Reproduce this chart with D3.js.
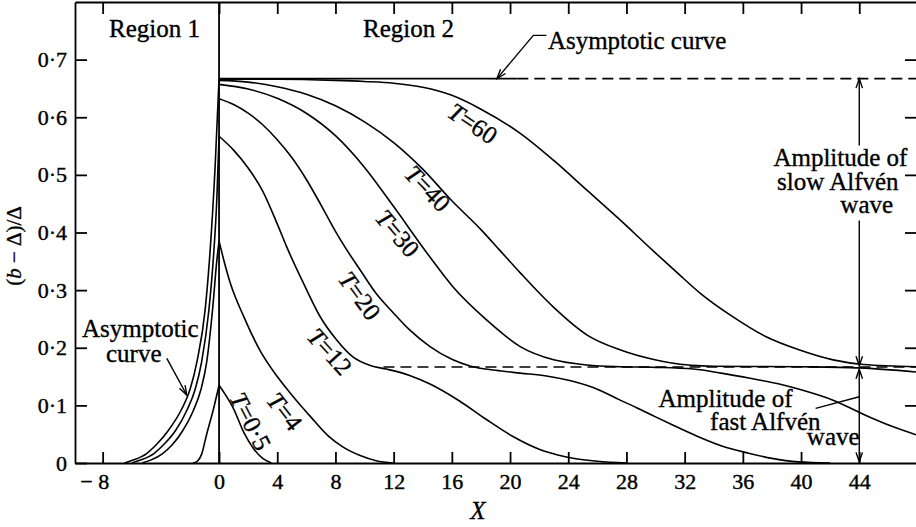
<!DOCTYPE html>
<html>
<head>
<meta charset="utf-8">
<script src="https://cdn.jsdelivr.net/npm/d3@7"></script>
<style>
  body { margin: 0; background: #fff; }
  svg { display: block; font-family: "Liberation Serif", "Times New Roman", serif; }
  .axis path, .axis line { stroke: #000; stroke-width: 1.8px; }
  .axis text { font-size: 22px; fill: #000; stroke: #000; stroke-width: 0.4px;
    font-family: "Liberation Serif", "Times New Roman", serif; }
  .curve { fill: none; stroke: #000; stroke-width: 1.6px; }
  .dash { fill: none; stroke: #000; stroke-width: 1.6px; stroke-dasharray: 11,6; }
  .lead { fill: none; stroke: #000; stroke-width: 1.4px; }
  .lbl { font-size: 25px; fill: #000; stroke: #000; stroke-width: 0.35px; }
</style>
</head>
<body>
<div id="chart"></div>
<script>
/* Axis ticks. */
const xTicks = [-8, 0, 4, 8, 12, 16, 20, 24, 28, 32, 36, 40, 44];
const yTicks = [0, 0.1, 0.2, 0.3, 0.4, 0.5, 0.6, 0.7];

/* Asymptotic levels: slow wave amplitude and fast wave amplitude. */
const asymLevel = 0.667;
const fastLevel = 0.1667;

/* Region 2 curves, points are [X, (b - Δ)/Δ]. */
const curveT60 = [[0, 0.666], [4, 0.666], [8, 0.664], [10, 0.662], [12, 0.659], [14, 0.652], [16, 0.638], [18, 0.614],
    [20.7, 0.572], [23, 0.525], [25.3, 0.473], [27.6, 0.421], [29.8, 0.369], [31.5, 0.33], [33.1, 0.294], [35.3, 0.254],
    [37.6, 0.219], [39.9, 0.196], [42.2, 0.179], [44.3, 0.171], [47.9, 0.167]];
const curveT40 = [[0, 0.664], [2, 0.661], [4, 0.653], [6, 0.64], [8, 0.62], [10, 0.592], [12, 0.556], [14, 0.51],
    [16, 0.455], [18, 0.405], [19.3, 0.369], [20.7, 0.33], [23, 0.27], [25.3, 0.222], [27.6, 0.196], [29.8, 0.18],
    [31, 0.174], [34, 0.168], [40, 0.167], [44, 0.165], [47.9, 0.158]];
const curveT30 = [[0, 0.657], [2, 0.649], [4, 0.633], [6, 0.607], [8, 0.568], [10, 0.513], [12, 0.445], [14.3, 0.364],
    [16.1, 0.305], [18.4, 0.248], [20.7, 0.202], [23, 0.179], [25.3, 0.17], [27.6, 0.167], [30, 0.166], [32.6, 0.163],
    [34.5, 0.156], [36.5, 0.147], [38.5, 0.137], [40, 0.127], [42.2, 0.109], [44.5, 0.082], [46.2, 0.064], [47.9, 0.049]];
const curveT20 = [[0, 0.632], [1, 0.622], [2, 0.607], [3, 0.587], [4, 0.561], [5, 0.53], [6, 0.492], [7, 0.448],
    [8, 0.402], [8.8, 0.369], [9.7, 0.335], [10.8, 0.294], [12, 0.26], [13.1, 0.231], [14.5, 0.202], [16, 0.18],
    [17.3, 0.168], [19, 0.161], [20.7, 0.156], [22.5, 0.151], [24.1, 0.143], [26.2, 0.126], [27.5, 0.11], [28.7, 0.096],
    [30, 0.08], [31, 0.068], [32.9, 0.046], [34.5, 0.03], [36.4, 0.017], [38, 0.008], [39.8, 0.002], [42, 0]];
const curveT12 = [[0, 0.567], [1, 0.543], [2, 0.512], [3, 0.472], [4, 0.415], [4.65, 0.375], [5.8, 0.312], [6.9, 0.256],
    [8.1, 0.213], [9.2, 0.184], [10.4, 0.169], [11.5, 0.163], [13.1, 0.152], [14.5, 0.137], [16.5, 0.108], [18.4, 0.075],
    [20.2, 0.046], [22, 0.024], [23.8, 0.011], [26, 0.003], [28, 0]];
const curveT4 = [[0, 0.385], [0.4, 0.345], [0.8, 0.31], [1.7, 0.254], [2.8, 0.196], [4, 0.15], [5.1, 0.115], [6.3, 0.08],
    [7.5, 0.047], [8.5, 0.028], [9.7, 0.013], [10.8, 0.004], [12, 0]];
const curveT05 = [[0, 0.135], [0.4, 0.12], [1, 0.094], [1.7, 0.053], [2.4, 0.024], [3, 0.008], [3.6, 0]];

/* Region 1 curves. */
const region1Asym = [[-6.5, 0], [-5.9, 0.005], [-5, 0.016], [-4.3, 0.032], [-3.5, 0.056], [-2.6, 0.092], [-2, 0.127],
    [-1.5, 0.178], [-0.96, 0.265], [-0.66, 0.352], [-0.27, 0.514], [0, 0.666]];
const region1T12 = [[-6, 0], [-5.4, 0.005], [-4.5, 0.016], [-3.8, 0.032], [-3, 0.056], [-2.2, 0.092], [-1.65, 0.127],
    [-1.2, 0.175], [-0.7, 0.265], [-0.4, 0.352], [-0.15, 0.46], [0, 0.567]];
const region1T4 = [[-5.3, 0], [-4.7, 0.005], [-3.9, 0.016], [-3.2, 0.032], [-2.5, 0.056], [-1.75, 0.092], [-1.25, 0.127],
    [-0.85, 0.175], [-0.45, 0.265], [-0.15, 0.352], [0, 0.385]];
const region1T05 = [[-1.8, 0], [-1.5, 0.003], [-1.2, 0.015], [-0.85, 0.05], [-0.4, 0.092], [0, 0.135]];

/* Chart creation values. */
const W = 916, H = 527;
const margin = {top: 2, right: 0, bottom: 64, left: 75};

const svg = d3.select('#chart').append('svg')
    .attr('width', W)
    .attr('height', H);
svg.append('rect').attr('width', W).attr('height', H).attr('fill', '#fff');

const x = d3.scaleLinear().domain([-9.9, 47.9]).range([margin.left, W - margin.right]);
const y = d3.scaleLinear().domain([0, 0.8]).range([H - margin.bottom, margin.top]);

const line = d3.line()
    .x(d => x(d[0]))
    .y(d => y(d[1]))
    .curve(d3.curveMonotoneX);

// Axes, ticks pointing into the frame.
const bottom = svg.append('g').attr('class', 'axis')
    .attr('transform', 'translate(0,' + y(0) + ')')
    .call(d3.axisBottom(x).tickValues(xTicks).tickSizeInner(-11).tickSizeOuter(0).tickPadding(10)
        .tickFormat(d => d < 0 ? '\u2212 ' + Math.abs(d) : d));
// Negative label: the digit sits on the tick, the minus hangs to the left.
bottom.selectAll('.tick text').filter(d => d < 0)
    .attr('text-anchor', 'end')
    .attr('x', 6);
svg.append('g').attr('class', 'axis')
    .attr('transform', 'translate(0,' + y(0.8) + ')')
    .call(d3.axisTop(x).tickValues(xTicks).tickSizeInner(-12).tickSizeOuter(0).tickFormat(''));
svg.append('g').attr('class', 'axis')
    .attr('transform', 'translate(' + x.range()[0] + ',0)')
    .call(d3.axisLeft(y).tickValues(yTicks).tickSizeInner(-12).tickSizeOuter(0).tickPadding(8)
        .tickFormat(d => d === 0 ? '0' : '0\u00b7' + Math.round(d * 10)));
const right = svg.append('g').attr('class', 'axis')
    .attr('transform', 'translate(' + x.range()[1] + ',0)')
    .call(d3.axisRight(y).tickValues(yTicks.slice(1)).tickSizeInner(-11).tickSizeOuter(0).tickFormat(''));
right.select('.domain').remove();

// Region divider at X = 0.
svg.append('line')
    .attr('x1', x(0)).attr('x2', x(0))
    .attr('y1', y(0)).attr('y2', y(0.8))
    .attr('stroke', '#000').attr('stroke-width', 1.8);

// Asymptotic lines.
svg.append('path').attr('class', 'curve').attr('d', line([[0, asymLevel], [20.5, asymLevel]]));
svg.append('path').attr('class', 'dash').attr('d', line([[20.5, asymLevel], [x.domain()[1], asymLevel]]));
svg.append('path').attr('class', 'dash').attr('d', line([[11.3, fastLevel], [x.domain()[1], fastLevel]]));

// All curves.
const curves = [curveT60, curveT40, curveT30, curveT20, curveT12, curveT4, curveT05,
    region1Asym, region1T12, region1T4, region1T05];
svg.selectAll('path.series')
    .data(curves)
    .enter()
    .append('path')
    .attr('class', 'curve series')
    .attr('d', d => line(d));

// Curve labels, placed in data units.
const curveLabels = [
    {t: '60', X: 17.46, v: 0.59, a: 34},
    {t: '40', X: 14.36, v: 0.477, a: 46},
    {t: '30', X: 12.3, v: 0.399, a: 50},
    {t: '20', X: 9.69, v: 0.291, a: 54},
    {t: '12', X: 7.63, v: 0.194, a: 48},
    {t: '4', X: 4.54, v: 0.09, a: 52},
    {t: '0\u00b75', X: 2.2, v: 0.073, a: 63}
];
const cl = svg.selectAll('text.clabel')
    .data(curveLabels)
    .enter()
    .append('text')
    .attr('class', 'lbl clabel')
    .attr('text-anchor', 'middle')
    .attr('dominant-baseline', 'central')
    .attr('transform', d => 'translate(' + x(d.X) + ',' + y(d.v) + ') rotate(' + d.a + ')');
cl.append('tspan').attr('font-style', 'italic').text('T');
cl.append('tspan').text(d => '=' + d.t);

// Arrow helper: polyline with open head at the last point.
function arrow(pts) {
    const p = pts.map(d => [x(d[0]), y(d[1])]);
    svg.append('path').attr('class', 'lead').attr('d', d3.line()(p));
    const [x2, y2] = p[p.length - 1];
    const [x1, y1] = p[p.length - 2];
    const a = Math.atan2(y2 - y1, x2 - x1), len = 10, s = 0.33;
    svg.append('path').attr('class', 'lead').attr('d', d3.line()([
        [x2 - len * Math.cos(a - s), y2 - len * Math.sin(a - s)],
        [x2, y2],
        [x2 - len * Math.cos(a + s), y2 - len * Math.sin(a + s)]
    ]));
}

function label(txt, X, v) {
    svg.append('text').attr('class', 'lbl').attr('x', x(X)).attr('y', y(v)).text(txt);
}

// Region names.
label('Region 1', -7.56, 0.74);
label('Region 2', 9.9, 0.74);

// Asymptotic curve (region 2).
label('Asymptotic curve', 22.6, 0.718);
arrow([[22.5, 0.742], [21.6, 0.742], [19.1, asymLevel]]);

// Asymptotic curve (region 1).
label('Asymptotic', -9.42, 0.218);
label('curve', -7.77, 0.176);
arrow([[-3.59, 0.1815], [-2.22, 0.118]]);

// Slow Alfvén wave amplitude.
label('Amplitude of', 38.1, 0.515);
label('slow Alfvén', 38.35, 0.473);
label('wave', 42.7, 0.4335);
arrow([[44, 0.551], [44, asymLevel]]);
arrow([[44, 0.421], [44, fastLevel + 0.002]]);

// Fast Alfvén wave amplitude.
label('Amplitude of', 30.2, 0.0976);
label('fast Alfvén', 33.75, 0.0572);
label('wave', 40.4, 0.0312);
arrow([[44, 0.08], [44, fastLevel - 0.004]]);
arrow([[44, 0.08], [44, 0.002]]);
svg.append('path').attr('class', 'lead').attr('d', d3.line()([[x(41.0), y(0.0948)], [x(44), y(0.115)]]));

// Axis titles.
svg.append('text').attr('class', 'lbl')
    .attr('x', 478).attr('y', 519)
    .attr('text-anchor', 'middle')
    .attr('font-style', 'italic')
    .text('X');
const yl = svg.append('text').attr('class', 'lbl')
    .attr('font-size', '21px')
    .style('font-size', '21px')
    .attr('text-anchor', 'middle')
    .attr('transform', 'translate(21,246) rotate(-90)');
yl.append('tspan').text('(');
yl.append('tspan').attr('font-style', 'italic').text('b');
yl.append('tspan').text(' \u2212 \u0394)/\u0394');
</script>
</body>
</html>
